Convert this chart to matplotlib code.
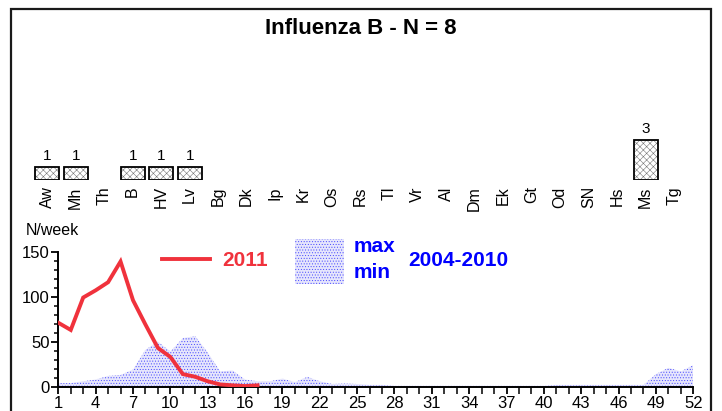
import matplotlib
matplotlib.use("Agg")
import matplotlib.pyplot as plt
from matplotlib.patches import Rectangle
from matplotlib.lines import Line2D
from matplotlib.ticker import MultipleLocator, FixedLocator
import numpy as np

plt.rcParams['font.family'] = ['Liberation Sans', 'DejaVu Sans']
plt.rcParams['hatch.linewidth'] = 0.4

# ---------------- data ----------------
regions = ["Aw", "Mh", "Th", "B", "HV", "Lv", "Bg", "Dk", "Ip", "Kr", "Os", "Rs",
           "Tl", "Vr", "Al", "Dm", "Ek", "Gt", "Od", "SN", "Hs", "Ms", "Tg"]
region_counts = [1, 1, 0, 1, 1, 1, 0, 0, 0, 0, 0, 0,
                 0, 0, 0, 0, 0, 0, 0, 0, 0, 3, 0]

weeks = list(range(1, 53))
weeks_2011 = list(range(1, 18))
cases_2011 = [71, 63, 99, 107, 116, 139, 96, 69, 43, 33, 14, 11, 6, 2.5, 1.5, 0.7, 1.5]

max_0410 = [4, 4, 6, 8, 12, 13, 19, 41, 50, 39, 54, 56, 38, 17, 18, 8, 6, 6, 9, 5,
            11, 6, 3, 3.5, 3, 2, 2, 1, 1, 1, 1, 1, 1, 1, 1, 1, 1, 1, 1, 1,
            2, 2, 2, 2, 2, 2, 2, 2, 14, 21, 17, 24]
min_0410 = [0] * 52

title = "Influenza B - N = 8"
red = '#f0323c'
blue = '#0000ff'
band_face = '#e6e6fc'
band_dots = '#4a4aff'

W, H = 722, 411
fig = plt.figure(figsize=(W / 100, H / 100), dpi=100)

def fx(px):
    return px / W

def fy(py):
    return 1 - py / H

# outer frame
fig.add_artist(Rectangle((fx(11), fy(440)), fx(711) - fx(11), fy(9) - fy(440),
                         transform=fig.transFigure, fill=False, lw=1.6,
                         edgecolor='#1a1a1a'))

fig.text(fx(361), fy(28), title, ha='center', va='center', fontsize=16,
         fontweight='bold')

# ---------------- top region bars ----------------
ax2 = fig.add_axes([fx(32.95), fy(180), 23 * 28.5 / W, 60 / H])
xs = np.arange(len(regions))
counts = np.array(region_counts)
mask = counts > 0
ax2.bar(xs[mask], counts[mask], width=0.85, facecolor='white', edgecolor='#777777',
        hatch='xxxxx', lw=0)
ax2.bar(xs[mask], counts[mask], width=0.85, fill=False, edgecolor='black', lw=1.3)
for x, c in zip(xs[mask], counts[mask]):
    ax2.annotate(str(c), (x, c), xytext=(0, 3), textcoords='offset points',
                 ha='center', va='bottom', fontsize=11)
ax2.set_xlim(-0.5, len(regions) - 0.5)
ax2.set_ylim(0, 4.5)
ax2.set_xticks(xs)
ax2.set_xticklabels(regions, rotation=90, fontsize=11.5)
ax2.tick_params(axis='x', length=0, pad=4.5)
ax2.set_yticks([])
for s in ax2.spines.values():
    s.set_visible(False)
ax2.patch.set_alpha(0)

# ---------------- main chart ----------------
ax = fig.add_axes([fx(58.3), fy(386.7), (693.3 - 58.3) / W, (386.7 - 251.6) / H])
ax.fill_between(weeks, min_0410, max_0410, facecolor=band_face, edgecolor=band_dots,
                hatch='......', lw=0, zorder=1)
ax.plot(weeks_2011, cases_2011, color=red, lw=2.8, zorder=3, solid_joinstyle='miter')
ax.set_xlim(1, 52)
ax.set_ylim(0, 150)
ax.xaxis.set_major_locator(FixedLocator(list(range(1, 53, 3))))
ax.xaxis.set_minor_locator(FixedLocator(weeks))
ax.yaxis.set_major_locator(MultipleLocator(50))
ax.yaxis.set_minor_locator(MultipleLocator(10))
ax.tick_params(axis='both', which='major', labelsize=12, length=5, width=1.3,
               direction='out')
ax.tick_params(axis='x', which='minor', length=5, width=1.1)
ax.tick_params(axis='y', which='minor', length=3, width=1.1)
ax.tick_params(axis='x', which='major', pad=2)
ax.tick_params(axis='y', which='major', pad=1)
for s in ['top', 'right']:
    ax.spines[s].set_visible(False)
for s in ['left', 'bottom']:
    ax.spines[s].set_linewidth(1.4)
ax.patch.set_alpha(0)

fig.text(fx(26), fy(230), "N/week", ha='left', va='center', fontsize=11.5)

# ---------------- legend ----------------
fig.add_artist(Line2D([fx(162), fx(210)], [fy(259), fy(259)], color=red, lw=2.8,
                      transform=fig.transFigure))
fig.text(fx(222), fy(260), "2011", color=red, fontsize=15, fontweight='bold',
         ha='left', va='center')
fig.add_artist(Rectangle((fx(295), fy(284)), fx(344) - fx(295), fy(239) - fy(284),
                         transform=fig.transFigure, facecolor=band_face,
                         edgecolor=band_dots, hatch='......', lw=0))
fig.text(fx(354), fy(246), "max", color=blue, fontsize=15, fontweight='bold',
         ha='left', va='center')
fig.text(fx(354), fy(273), "min", color=blue, fontsize=15, fontweight='bold',
         ha='left', va='center')
fig.text(fx(408), fy(260), "2004-2010", color=blue, fontsize=15, fontweight='bold',
         ha='left', va='center')

fig.savefig("out.png", dpi=100)
